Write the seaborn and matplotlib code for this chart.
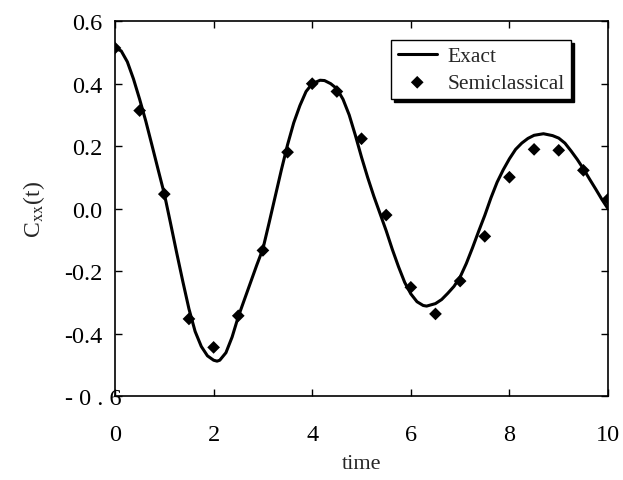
import numpy as np
import pandas as pd
import matplotlib
matplotlib.use("Agg")
import matplotlib.pyplot as plt
import matplotlib.transforms as mtransforms
import seaborn as sns

# exact curve
exact_t = [0.0, 0.125, 0.25, 0.375, 0.5, 0.625, 0.75, 0.875, 1.0, 1.125, 1.25, 1.375,
           1.5, 1.625, 1.75, 1.875, 2.0, 2.07, 2.125, 2.25, 2.375, 2.5, 2.625, 2.75,
           2.875, 3.0, 3.125, 3.25, 3.375, 3.5, 3.625, 3.75, 3.875, 4.0, 4.16, 4.25,
           4.375, 4.5, 4.625, 4.75, 4.875, 5.0, 5.125, 5.25, 5.375, 5.5, 5.625, 5.75,
           5.875, 6.0, 6.125, 6.25, 6.32, 6.5, 6.625, 6.75, 6.875, 7.0, 7.125, 7.25,
           7.375, 7.5, 7.625, 7.75, 7.875, 8.0, 8.125, 8.25, 8.375, 8.5, 8.69, 8.875,
           9.0, 9.125, 9.25, 9.375, 9.5, 9.625, 9.75, 9.875, 10.0]
exact_c = [0.513, 0.505, 0.470, 0.415, 0.350, 0.280, 0.203, 0.125, 0.048, -0.045,
           -0.140, -0.232, -0.320, -0.392, -0.440, -0.470, -0.484, -0.487, -0.484,
           -0.460, -0.410, -0.345, -0.290, -0.235, -0.180, -0.128, -0.045, 0.040,
           0.125, 0.205, 0.275, 0.330, 0.375, 0.400, 0.411, 0.410, 0.400, 0.384,
           0.350, 0.300, 0.235, 0.165, 0.100, 0.040, -0.015, -0.070, -0.130, -0.185,
           -0.235, -0.272, -0.297, -0.309, -0.311, -0.303, -0.290, -0.270, -0.248,
           -0.218, -0.175, -0.125, -0.072, -0.021, 0.035, 0.085, 0.125, 0.160, 0.190,
           0.210, 0.225, 0.235, 0.240, 0.234, 0.226, 0.210, 0.185, 0.158, 0.128,
           0.095, 0.063, 0.030, 0.0]

# semiclassical points
semi_t = [0.0, 0.5, 1.0, 1.5, 2.0, 2.5, 3.0, 3.5, 4.0, 4.5, 5.0, 5.5, 6.0, 6.5,
          7.0, 7.5, 8.0, 8.5, 9.0, 9.5, 10.0]
semi_c = [0.514, 0.314, 0.047, -0.352, -0.443, -0.342, -0.133, 0.181, 0.400, 0.375,
          0.224, -0.020, -0.251, -0.336, -0.231, -0.088, 0.101, 0.190, 0.187, 0.123, 0.031]

x_ticks = [0, 2, 4, 6, 8, 10]
y_ticks = [0.6, 0.4, 0.2, 0.0, -0.2, -0.4, -0.6]
y_tick_labels = ["0.6", "0.4", "0.2", "0.0", "-0.2", "-0.4", "- 0 . 6"]

sns.set_style("ticks")
plt.rcParams["font.family"] = ["Liberation Serif", "DejaVu Serif"]
plt.rcParams["mathtext.fontset"] = "stix"

df_exact = pd.DataFrame({"time": exact_t, "C": exact_c})
df_semi = pd.DataFrame({"time": semi_t, "C": semi_c})

fig = plt.figure(figsize=(6.23, 4.81), dpi=100)
ax = fig.add_axes([0.1846, 0.1736, 0.7914, 0.7804])

sns.lineplot(data=df_exact, x="time", y="C", ax=ax, color="black", linewidth=2.2,
             sort=False, estimator=None, label="Exact")
sns.scatterplot(data=df_semi, x="time", y="C", ax=ax, color="black", marker="D",
                s=42, edgecolor="none", label="Semiclassical", zorder=3)

ax.set_xlim(0, 10)
ax.set_ylim(-0.6, 0.6)
ax.set_xticks(x_ticks)
ax.set_yticks(y_ticks)
ax.set_yticklabels(y_tick_labels)

for side in ["top", "right", "bottom", "left"]:
    ax.spines[side].set_visible(True)
    ax.spines[side].set_linewidth(1.2)
    ax.spines[side].set_color("black")

ax.tick_params(axis="both", direction="in", length=5, width=1.0, top=True, right=True,
               labelsize=17.5, colors="black")
ax.tick_params(axis="x", pad=20)
ax.tick_params(axis="y", pad=9)

# the bottom label sits over the axis line in the original
lbl = ax.get_yticklabels()[-1]
lbl.set_transform(lbl.get_transform() + mtransforms.ScaledTranslation(0.19, 0, fig.dpi_scale_trans))

ax.set_xlabel("time", fontsize=16, labelpad=6)
ax.set_ylabel(r"C$_{\mathrm{xx}}$(t)", fontsize=17, labelpad=12)

leg = ax.legend(loc="upper right", bbox_to_anchor=(0.925, 0.95), fontsize=15.5,
                frameon=True, fancybox=False, shadow={"color": "black", "alpha": 1},
                edgecolor="black", framealpha=1, borderpad=0.3, handlelength=1.8,
                handletextpad=0.5, labelspacing=0.3, borderaxespad=0)
leg.get_frame().set_linewidth(1.0)

fig.savefig("out.png", dpi=100)
